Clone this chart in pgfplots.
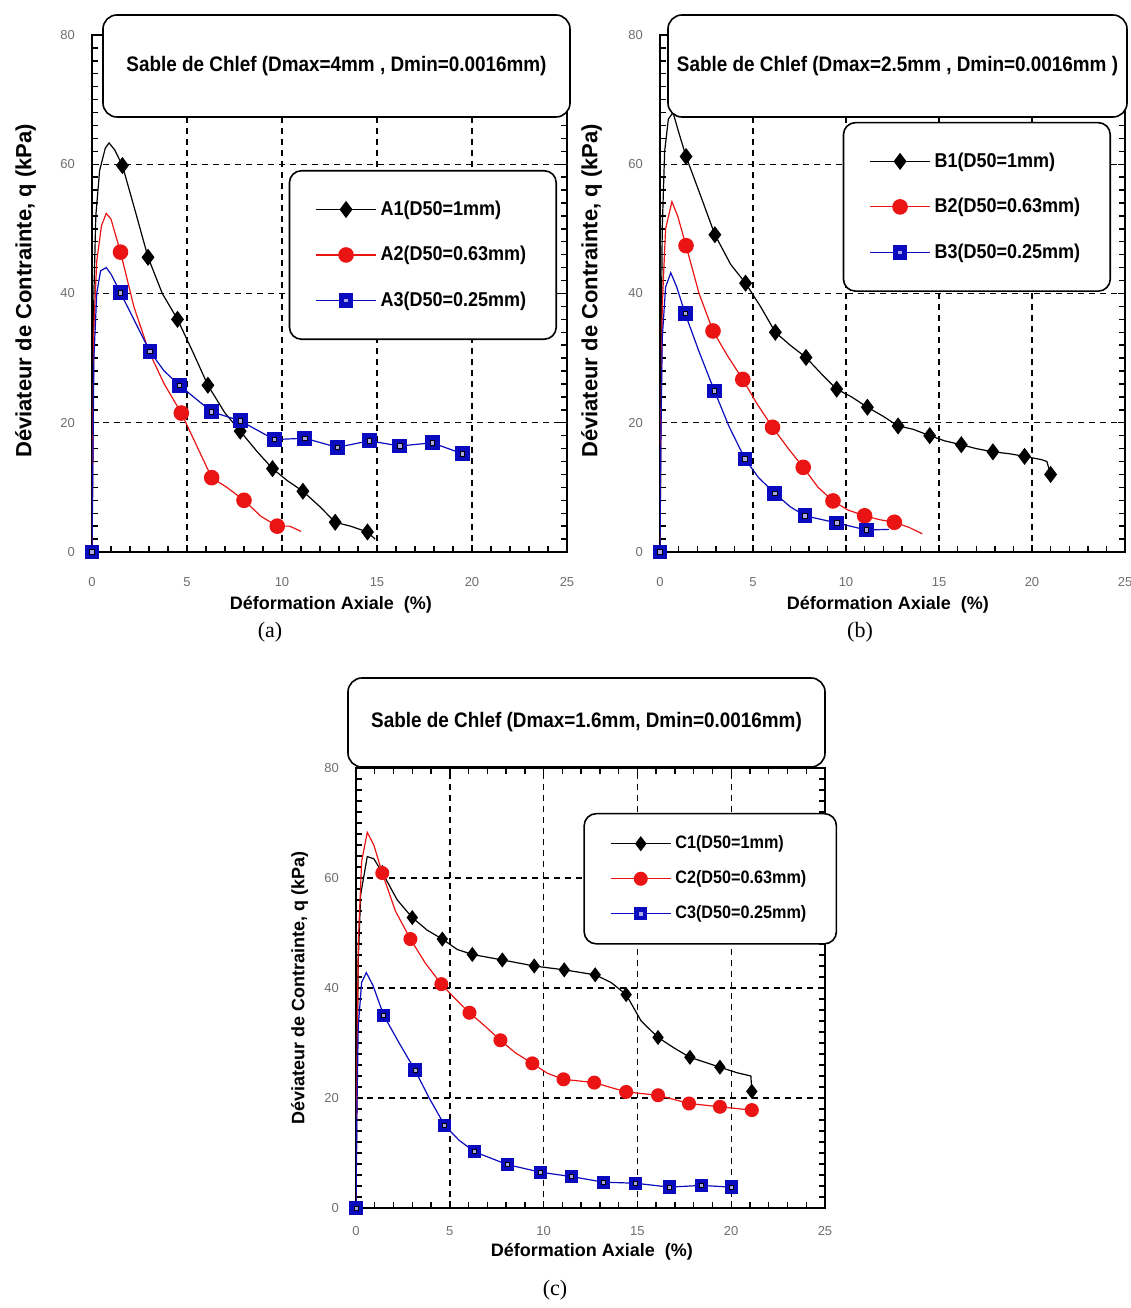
\documentclass[border=0pt]{standalone}
\usepackage{pgfplots}
\pgfplotsset{compat=1.18}
\usepackage{fontspec}
\setmainfont{Liberation Sans}
\newfontfamily\seriffont{Liberation Serif}
\newfontfamily\narrowfont{Liberation Sans}[FakeStretch=0.9]

\definecolor{cred}{RGB}{235,20,20}
\definecolor{cblue}{RGB}{10,10,190}
\definecolor{tickgray}{RGB}{110,110,110}

\pgfplotsset{
  chlef/.style={
    scale only axis,
    xmin=0, xmax=25, ymin=0, ymax=80,
    xtick={0,5,...,25}, ytick={0,20,...,80},
    minor x tick num=4, minor y tick num=9,
    tick align=inside,
    major tick length=3.5pt, minor tick length=3pt,
    every tick/.style={black, line width=0.7pt},
    axis line style={line width=1pt},
    grid=major,
    major grid style={black, line width=0.7pt, dash pattern=on 3pt off 2.5pt},
    tick label style={font=\fontsize{6.5}{7}\selectfont, text=tickgray},
    /pgf/number format/assume math mode=true,
    yticklabel style={xshift=-5pt},
    xlabel={Déformation Axiale~~(\%)},
    ylabel={Déviateur de Contrainte, q (kPa)},
    xlabel style={font=\bfseries\fontsize{9}{10}\selectfont, anchor=center},
    ylabel style={font=\bfseries\fontsize{11}{12}\selectfont, anchor=center},
    legend cell align=left,
    legend style={draw=black, line width=0.8pt, rounded corners=6pt, fill=white,
      font=\narrowfont\bfseries\fontsize{10}{12}\selectfont,
      row sep=10pt, inner ysep=13pt, inner xsep=13pt,
      /tikz/column 2/.style={column sep=6pt}},
  },
  s1/.style={black, line width=0.6pt, mark=diamond*, mark size=3.8pt,
    mark options={solid, fill=black, draw=black}},
  s2/.style={cred, line width=0.6pt, mark=*, mark size=3.6pt,
    mark options={solid, fill=cred, draw=cred}},
  s3/.style={cblue, line width=0.6pt, mark=square*, mark size=3.4pt,
    mark options={solid, fill=cblue, draw=cblue}},
  % marker-only plot whose legend shows line + one marker
  mk/.style={only marks,
    legend image code/.code={\draw[mark=none] (0pt,0pt) -- (30pt,0pt);
      \draw plot coordinates {(15pt,0pt)};}},
  mk3/.style={only marks,
    legend image code/.code={\draw[mark=none] (0pt,0pt) -- (30pt,0pt);
      \draw plot coordinates {(15pt,0pt)};
      \draw[mark=square*, mark size=1.2pt, mark options={fill=white!65!cblue, draw=none}]
        plot coordinates {(15pt,0pt)};}},
  % light centre of the blue squares
  inner/.style={only marks, forget plot, mark=square*, mark size=1.1pt,
    mark options={fill=white!65!cblue, draw=none}},
}
\tikzset{
  boxtitle/.style={draw=black, line width=0.8pt, rounded corners=7pt, fill=white,
    inner sep=0pt, font=\narrowfont\bfseries\fontsize{10.5}{12}\selectfont},
}

\begin{document}
\begin{tikzpicture}
\useasboundingbox (0,0) rectangle (565.5pt,654pt);

% ---------------- (a) Dmax = 4 mm
\begin{axis}[chlef, at={(46pt,378pt)}, anchor=south west,
  width=237.5pt, height=258.5pt,
  xticklabel style={yshift=-9pt},
  xlabel style={at={(axis description cs:0.503,-0.1025)}},
  ylabel style={at={(axis description cs:-0.14,0.505)}},
  legend style={at={(0.979,0.739)}, anchor=north east}]
\addplot[s1, no markers, forget plot] coordinates {
 (0,0) (0.05,20) (0.1,40) (0.2,52) (0.4,59) (0.7,62.5) (0.9,63.3) (1.2,62.2)
 (1.6,59.8) (2.3,52.5) (2.95,45.6) (3.7,40) (4.5,36) (5.3,31) (6.1,25.8)
 (7.0,21.5) (7.8,18.7) (8.7,15.5) (9.5,12.9) (10.3,11) (11.1,9.4) (12.0,7)
 (12.8,4.6) (13.6,4.0) (14.5,3.1) (14.9,2.0)};
\addplot[s2, no markers, forget plot] coordinates {
 (0,0) (0.05,20) (0.1,35) (0.25,45) (0.5,50.5) (0.75,52.4) (1.0,51.5)
 (1.5,46.4) (2.2,38) (3.0,31) (3.8,26) (4.7,21.5) (5.5,16.5) (6.3,11.5)
 (7.1,10) (8.0,8.0) (8.9,5.5) (9.75,4.0) (10.4,4.0) (11.0,3.2)};
\addplot[s3, no markers, forget plot] coordinates {
 (0,0) (0.05,15) (0.1,30) (0.25,40) (0.45,43.5) (0.75,44) (1.0,43)
 (1.5,40.1) (2.2,36) (3.05,31) (3.8,28) (4.6,25.8) (6.3,21.7) (7.8,20.3)
 (9.6,17.4) (11.2,17.6) (12.9,16.2) (14.6,17.2) (16.2,16.4) (17.9,16.9) (19.5,15.2)};
\addplot[s1, mk] coordinates {
 (1.6,59.8) (2.95,45.6) (4.5,36) (6.1,25.8) (7.8,18.7) (9.5,12.9) (11.1,9.4)
 (12.8,4.6) (14.5,3.1)};
\addplot[s2, mk] coordinates {
 (1.5,46.4) (4.7,21.5) (6.3,11.5) (8.0,8.0) (9.75,4.0)};
\addplot[s3, mk3] coordinates {
 (0,0) (1.5,40.1) (3.05,31) (4.6,25.8) (6.3,21.7) (7.8,20.3) (9.6,17.4)
 (11.2,17.6) (12.9,16.2) (14.6,17.2) (16.2,16.4) (17.9,16.9) (19.5,15.2)};
\addplot[inner] coordinates {
 (0,0) (1.5,40.1) (3.05,31) (4.6,25.8) (6.3,21.7) (7.8,20.3) (9.6,17.4)
 (11.2,17.6) (12.9,16.2) (14.6,17.2) (16.2,16.4) (17.9,16.9) (19.5,15.2)};
\legend{A1(D50=1mm), A2(D50=0.63mm), A3(D50=0.25mm)}
\end{axis}

% ---------------- (b) Dmax = 2.5 mm
\begin{axis}[chlef, at={(330pt,378pt)}, anchor=south west,
  width=232.5pt, height=258.5pt,
  xticklabel style={yshift=-9pt},
  xlabel style={at={(axis description cs:0.49,-0.1025)}},
  ylabel style={at={(axis description cs:-0.147,0.505)}},
  legend style={at={(0.970,0.832)}, anchor=north east}]
\addplot[s1, no markers, forget plot] coordinates {
 (0,0) (0.05,25) (0.12,50) (0.25,62) (0.45,67) (0.7,68) (1.0,65)
 (1.4,61.2) (2.2,55) (2.95,49.1) (3.8,44.5) (4.6,41.6) (5.4,38) (6.2,34.0)
 (7.0,32) (7.85,30.1) (8.7,27.5) (9.5,25.2) (10.3,24) (11.15,22.4) (12.0,21)
 (12.8,19.5) (13.6,19) (14.5,18.0) (15.3,17.2) (16.2,16.6) (17.0,16)
 (17.9,15.5) (18.8,15.2) (19.6,14.8) (20.5,14.3) (20.8,14.0) (21.0,12.0)};
\addplot[s2, no markers, forget plot] coordinates {
 (0,0) (0.05,20) (0.12,38) (0.3,50) (0.64,54.2) (0.95,52)
 (1.4,47.4) (2.1,40) (2.85,34.2) (3.6,30.5) (4.45,26.7) (5.2,23) (6.05,19.3)
 (6.9,16) (7.7,13.1) (8.5,10) (9.3,7.9) (10.1,6.5) (11.0,5.6) (11.8,5.0)
 (12.6,4.6) (13.4,3.8) (14.1,2.8)};
\addplot[s3, no markers, forget plot] coordinates {
 (0,0) (0.05,18) (0.12,33) (0.3,41) (0.58,43.2) (0.9,41)
 (1.35,36.9) (2.1,31) (2.93,24.9) (3.7,19.5) (4.57,14.4) (5.3,11.5) (6.17,9.1)
 (7.0,7) (7.8,5.6) (9.5,4.5) (11.1,3.4) (12.3,3.5)};
\addplot[s1, mk] coordinates {
 (1.4,61.2) (2.95,49.1) (4.6,41.6) (6.2,34.0) (7.85,30.1) (9.5,25.2)
 (11.15,22.4) (12.8,19.5) (14.5,18.0) (16.2,16.6) (17.9,15.5) (19.6,14.8) (21.0,12.0)};
\addplot[s2, mk] coordinates {
 (1.4,47.4) (2.85,34.2) (4.45,26.7) (6.05,19.3) (7.7,13.1) (9.3,7.9) (11.0,5.6) (12.6,4.6)};
\addplot[s3, mk3] coordinates {
 (0,0) (1.35,36.9) (2.93,24.9) (4.57,14.4) (6.17,9.1) (7.8,5.6) (9.5,4.5) (11.1,3.4)};
\addplot[inner] coordinates {
 (0,0) (1.35,36.9) (2.93,24.9) (4.57,14.4) (6.17,9.1) (7.8,5.6) (9.5,4.5) (11.1,3.4)};
\legend{B1(D50=1mm), B2(D50=0.63mm), B3(D50=0.25mm)}
\end{axis}

% ---------------- (c) Dmax = 1.6 mm
\begin{axis}[chlef, at={(178pt,50pt)}, anchor=south west,
  width=234.5pt, height=220pt,
  xticklabel style={yshift=-5.5pt},
  xlabel style={at={(axis description cs:0.503,-0.1)}},
  ylabel style={at={(axis description cs:-0.12,0.5)},
    font=\bfseries\fontsize{9}{10}\selectfont},
  legend style={at={(1.026,0.898)}, anchor=north east,
    font=\narrowfont\bfseries\fontsize{9}{10}\selectfont,
    row sep=5.5pt, inner ysep=9pt}]
\addplot[s1, no markers, forget plot] coordinates {
 (0,0) (0.05,25) (0.12,45) (0.25,57) (0.6,63.9) (0.95,63.5)
 (1.4,61) (2.2,56) (3.0,52.8) (3.8,50.5) (4.6,48.9) (5.4,47) (6.2,46.1)
 (7.0,45.6) (7.8,45.1) (9.5,44.0) (11.1,43.3) (12.75,42.4) (13.6,41)
 (14.4,38.8) (15.2,34) (16.1,31.0) (17.0,29) (17.8,27.4) (18.6,26.5)
 (19.4,25.6) (20.3,24.6) (21.05,24.0) (21.1,21.2)};
\addplot[s2, no markers, forget plot] coordinates {
 (0,0) (0.05,25) (0.12,48) (0.3,63) (0.6,68.3) (0.95,66)
 (1.4,60.9) (2.1,54) (2.9,48.9) (3.7,44.5) (4.55,40.7) (5.3,38) (6.05,35.5)
 (6.9,33) (7.7,30.5) (8.5,28.2) (9.4,26.3) (10.2,24.5) (11.06,23.4)
 (12.7,22.8) (14.4,21.1) (16.1,20.5) (17.75,19.0) (19.4,18.4) (21.1,17.8)};
\addplot[s3, no markers, forget plot] coordinates {
 (0,0) (0.05,18) (0.12,33) (0.3,41) (0.55,42.8) (0.9,40.5)
 (1.48,35.0) (2.3,30) (3.14,25.1) (3.9,20) (4.73,15.0) (5.5,12.3) (6.33,10.2)
 (8.06,7.9) (9.84,6.5) (11.5,5.7) (13.2,4.7) (14.9,4.5) (16.7,3.8) (18.4,4.1) (20.0,3.8)};
\addplot[s1, mk, mark size=3.3pt] coordinates {
 (1.4,61) (3.0,52.8) (4.6,48.9) (6.2,46.1) (7.8,45.1) (9.5,44.0) (11.1,43.3)
 (12.75,42.4) (14.4,38.8) (16.1,31.0) (17.8,27.4) (19.4,25.6) (21.1,21.2)};
\addplot[s2, mk, mark size=3.2pt] coordinates {
 (1.4,60.9) (2.9,48.9) (4.55,40.7) (6.05,35.5) (7.7,30.5) (9.4,26.3) (11.06,23.4)
 (12.7,22.8) (14.4,21.1) (16.1,20.5) (17.75,19.0) (19.4,18.4) (21.1,17.8)};
\addplot[s3, mk3, mark size=3.0pt] coordinates {
 (0,0) (1.48,35.0) (3.14,25.1) (4.73,15.0) (6.33,10.2) (8.06,7.9) (9.84,6.5)
 (11.5,5.7) (13.2,4.7) (14.9,4.5) (16.7,3.8) (18.4,4.1) (20.0,3.8)};
\addplot[inner, mark size=1pt] coordinates {
 (0,0) (1.48,35.0) (3.14,25.1) (4.73,15.0) (6.33,10.2) (8.06,7.9) (9.84,6.5)
 (11.5,5.7) (13.2,4.7) (14.9,4.5) (16.7,3.8) (18.4,4.1) (20.0,3.8)};
\legend{C1(D50=1mm), C2(D50=0.63mm), C3(D50=0.25mm)}
\end{axis}

% title boxes
\node[boxtitle, minimum width=233.5pt, minimum height=51pt] at (168.25pt,621pt)
  {Sable de Chlef (Dmax=4mm , Dmin=0.0016mm)};
\node[boxtitle, minimum width=229.5pt, minimum height=51pt] at (448.75pt,621pt)
  {Sable de Chlef (Dmax=2.5mm , Dmin=0.0016mm )};
\node[boxtitle, minimum width=238.5pt, minimum height=44.5pt] at (293.25pt,292.75pt)
  {Sable de Chlef (Dmax=1.6mm, Dmin=0.0016mm)};

% captions
\node[font=\seriffont\fontsize{11}{12}\selectfont] at (135pt,338pt) {(a)};
\node[font=\seriffont\fontsize{11}{12}\selectfont] at (430pt,338pt) {(b)};
\node[font=\seriffont\fontsize{11}{12}\selectfont] at (277.5pt,9pt) {(c)};
\end{tikzpicture}
\end{document}
